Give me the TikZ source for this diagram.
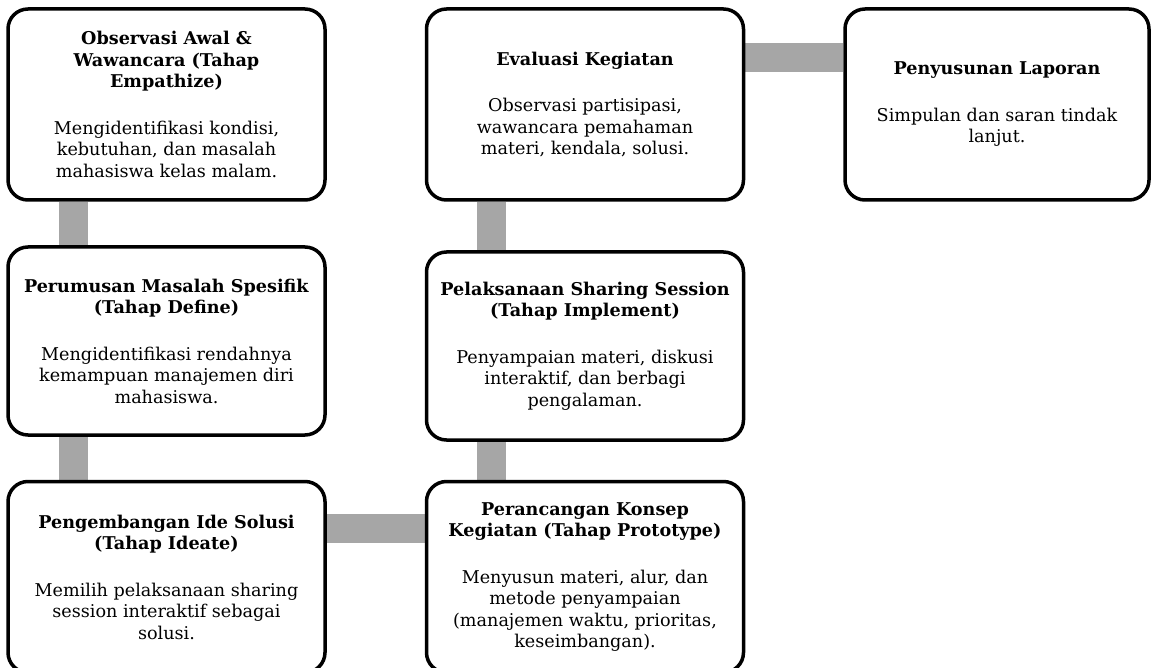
\documentclass[tikz,border=0pt]{standalone}
\usepackage{fontspec}
\setmainfont{DejaVu Serif}
\usetikzlibrary{backgrounds}
\definecolor{linkgray}{RGB}{166,166,166}

\begin{document}
\begin{tikzpicture}[x=1pt,y=-1pt]
\tikzstyle{every node}+=[inner sep=0pt]
\tikzstyle{stage}=[draw=black, line width=3.5pt, rounded corners=20pt, fill=white, minimum width=317pt, minimum height=191pt, align=center, font=\fontsize{17.6}{21.5}\selectfont]
\tikzstyle{link}=[draw=linkgray, line width=29pt]
\useasboundingbox (0,0) rectangle (1151,668);
% left column
\node [stage] (obs) at (166.5,104.5) {\textbf{Observasi Awal \&}\\ \textbf{Wawancara (Tahap}\\ \textbf{Empathize)}\\[25pt] Mengidentifikasi kondisi,\\ kebutuhan, dan masalah\\ mahasiswa kelas malam.};
\node [stage, minimum height=188pt] (rumus) at (166.5,341) {\textbf{Perumusan Masalah Spesifik}\\ \textbf{(Tahap Define)}\\[25pt] Mengidentifikasi rendahnya\\ kemampuan manajemen diri\\ mahasiswa.};
\node [stage] (ide) at (166.5,577) {\textbf{Pengembangan Ide Solusi}\\ \textbf{(Tahap Ideate)}\\[25pt] Memilih pelaksanaan sharing\\ session interaktif sebagai\\ solusi.};
% middle column
\node [stage] (rancang) at (585,577) {\textbf{Perancangan Konsep}\\ \textbf{Kegiatan (Tahap Prototype)}\\[25pt] Menyusun materi, alur, dan\\ metode penyampaian\\ (manajemen waktu, prioritas,\\ keseimbangan).};
\node [stage, minimum height=188pt] (laksana) at (585,346) {\textbf{Pelaksanaan Sharing Session}\\ \textbf{(Tahap Implement)}\\[25pt] Penyampaian materi, diskusi\\ interaktif, dan berbagi\\ pengalaman.};
\node [stage] (eval) at (585,104.5) {\textbf{Evaluasi Kegiatan}\\[25pt] Observasi partisipasi,\\ wawancara pemahaman\\ materi, kendala, solusi.};
% right column
\node [stage, minimum width=304pt] (lapor) at (997,104.5) {\textbf{Penyusunan Laporan}\\[25pt] Simpulan dan saran tindak\\ lanjut.};
\begin{scope}[on background layer]
\draw [link] ([xshift=-93pt]obs.south) -- ([xshift=-93pt]rumus.north);
\draw [link] ([xshift=-93pt]rumus.south) -- ([xshift=-93pt]ide.north);
\draw [link] ([yshift=48.5pt]ide.east) -- ([yshift=48.5pt]rancang.west);
\draw [link] ([xshift=-93.5pt]rancang.north) -- ([xshift=-93.5pt]laksana.south);
\draw [link] ([xshift=-93.5pt]laksana.north) -- ([xshift=-93.5pt]eval.south);
\draw [link] ([yshift=47pt]eval.east) -- ([yshift=47pt]lapor.west);
\end{scope}
\end{tikzpicture}
\end{document}
